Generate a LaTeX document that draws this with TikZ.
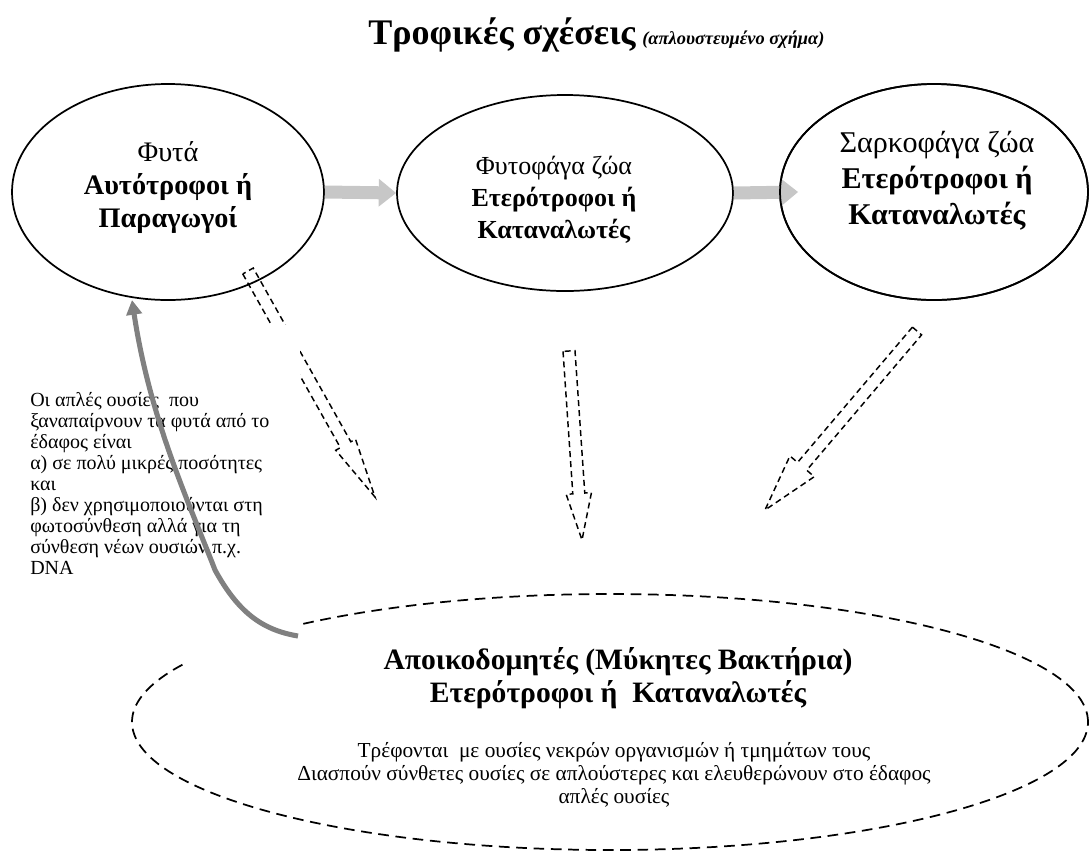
\documentclass[tikz,border=0pt]{standalone}
\usepackage{fontspec}
\setmainfont{Liberation Serif}
\usetikzlibrary{calc,arrows.meta,shapes.geometric}

% dashed outline of a block arrow: tail, tip, shaft half width, head half width, head length
\newcommand\dashblock[5]{%
  \coordinate (db-base) at ($(#2)!#5!(#1)$);
  \draw[dashblk] ($(#1)!#3!-90:(#2)$) -- ($(db-base)!#3!-90:(#2)$)
    -- ($(db-base)!#4!-90:(#2)$) -- (#2) -- ($(db-base)!#4!90:(#2)$)
    -- ($(db-base)!#3!90:(#2)$) -- ($(#1)!#3!90:(#2)$) -- cycle;}

\begin{document}
\begin{tikzpicture}[x=0.75pt,y=-0.75pt,
  level/.style={ellipse,draw,line width=1.3pt,inner sep=0pt,fill=white},
  flowarrow/.style={line width=9.75pt,draw=black!22,-{Triangle[width=20pt,length=13pt]}},
  dashblk/.style={line width=1.1pt,dash pattern=on 4.5pt off 3pt,line join=miter},
  decomp/.style={ellipse,draw,line width=1.3pt,dash pattern=on 8pt off 5pt,inner sep=0pt,
    minimum width=717pt,minimum height=192pt},
  recycle/.style={line width=3.8pt,draw=gray,-{Triangle[width=11.5pt,length=11pt]}},
  lbl/.style={align=center,inner sep=0pt}]
\useasboundingbox (0,0) rectangle (1089,851);

% title
\node[anchor=base west,inner sep=0pt] (title) at (368,44)
  {{\bfseries\fontsize{27}{32}\selectfont Τροφικές σχέσεις}\hspace{5pt}{\bfseries\itshape\fontsize{13.8}{16}\selectfont (απλουστευμένο σχήμα)}};

% trophic levels
\node[level,minimum width=234pt,minimum height=162pt] (plants) at (168,192) {};
\node[level,minimum width=252pt,minimum height=147pt] (herb) at (565,193) {};
\node[level,minimum width=231pt,minimum height=162pt] (carn) at (934,192) {};

% energy flow between levels
\coordinate (carnin) at ($(carn.west)+(19,0)$);
\draw[flowarrow] (plants.east) -- (herb.west);
\draw[flowarrow] (herb.east) -- (carnin);
\draw[line width=1.3pt] (carn) ellipse[x radius=154, y radius=108];

\node[lbl,font=\fontsize{21.2}{24.75}\selectfont] (plantstxt) at (168,188)
  {Φυτά\\\textbf{Αυτότροφοι ή}\\\textbf{Παραγωγοί}};
\node[lbl,font=\fontsize{19.5}{24}\selectfont] (herbtxt) at (554,200)
  {Φυτοφάγα ζώα\\\textbf{Ετερότροφοι ή}\\\textbf{Καταναλωτές}};
\node[lbl,font=\fontsize{22.6}{27}\selectfont] (carntxt) at (937,181)
  {Σαρκοφάγα ζώα\\\textbf{Ετερότροφοι ή}\\\textbf{Καταναλωτές}};

% dead matter towards the decomposers
\coordinate (t1) at (248,271);  \coordinate (p1) at (375,497);
\coordinate (t2) at (569,351);  \coordinate (p2) at (582,540);
\coordinate (t3) at (917,331);  \coordinate (p3) at (765,510);
\dashblock{t1}{p1}{4.5pt}{8.5pt}{45pt}
\dashblock{t2}{p2}{4.5pt}{9.5pt}{35pt}
\dashblock{t3}{p3}{4.5pt}{12pt}{43pt}

% decomposers
\node[decomp] (decomposers) at (610,722) {};
\node[lbl,font=\bfseries\fontsize{22.2}{24.75}\selectfont] (dectitle) at (618,678)
  {Αποικοδομητές (Μύκητες Βακτήρια)\\Ετερότροφοι ή\ \ Καταναλωτές};
\node[lbl,font=\fontsize{16}{17.25}\selectfont] (dectext) at (614,775)
  {Τρέφονται\ \ με ουσίες νεκρών οργανισμών ή τμημάτων τους\\
   Διασπούν σύνθετες ουσίες σε απλούστερες και ελευθερώνουν στο έδαφος\\
   απλές ουσίες};

% note on nutrient uptake
\fill[white] (18,325) rectangle (300,663);
\node[anchor=north west,align=left,inner sep=0pt,font=\fontsize{15}{15.75}\selectfont] (note) at (30,392)
  {Οι απλές ουσίες\ \ που\\
   ξαναπαίρνουν τα φυτά από το\\
   έδαφος είναι\\
   α) σε πολύ μικρές ποσότητες\\
   και\\
   β) δεν χρησιμοποιούνται στη\\
   φωτοσύνθεση αλλά για τη\\
   σύνθεση νέων ουσιών π.χ.\\
   DNA};

% return of simple substances to the plants
\coordinate (retstart) at (298,636);
\coordinate (rettip) at (132,300);
\draw[recycle] (retstart) .. controls (262,630) and (238,612) .. (215,570)
  .. controls (190,505) and (150,420) .. (rettip);
\end{tikzpicture}
\end{document}
